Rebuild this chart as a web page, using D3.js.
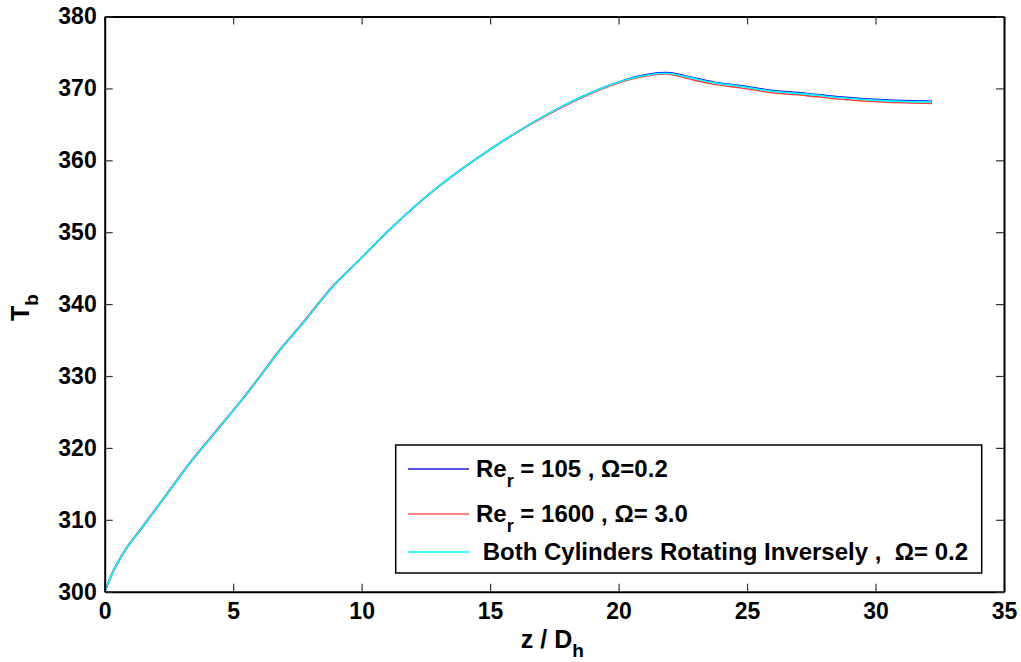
<!DOCTYPE html>
<html>
<head>
<meta charset="utf-8">
<script src="https://cdn.jsdelivr.net/npm/d3@7/dist/d3.min.js"></script>
<style>
  html, body { margin: 0; padding: 0; background: #fff; }
  svg { display: block; }
  text { font-family: "Liberation Sans", Arial, sans-serif; font-weight: bold; fill: #000; }
</style>
</head>
<body>
<svg id="chart" width="1021" height="662"></svg>
<script>
// Axial position z / D_h shared by all three runs
const zPos = [0, 0.33, 0.72, 1.5, 2.41, 3.32, 4.36, 5.26, 5.98, 6.69, 7.73, 8.77, 9.93, 11.1, 12.14,
              13.05, 14.34, 15.64, 17.33, 18.62, 19.92, 21.22, 21.87, 22.65, 23.68, 24.72, 26.0,
              27.3, 28.7, 30.3, 32.2];

// Bulk temperature T_b for each case
const tbRe105 = [300, 302.8, 305.3, 309.1, 313.5, 317.9, 322.4, 326.3, 329.6, 333.0, 337.4, 342.0, 346.2,
                 350.4, 353.8, 356.5, 359.9, 363.0, 366.6, 368.9, 370.8, 372.0, 372.2, 371.7, 370.9,
                 370.4, 369.7, 369.3, 368.8, 368.4, 368.2];
const tbRe1600 = [300, 302.9, 305.4, 309.2, 313.6, 318.0, 322.5, 326.4, 329.7, 333.1, 337.5, 342.1, 346.2,
                  350.4, 353.8, 356.5, 359.9, 363.0, 366.5, 368.8, 370.7, 371.8, 372.0, 371.4, 370.6,
                  370.1, 369.4, 369.0, 368.5, 368.1, 367.9];
const tbInverse = [300, 302.8, 305.3, 309.1, 313.5, 317.9, 322.4, 326.3, 329.6, 333.0, 337.4, 342.0, 346.2,
                   350.4, 353.8, 356.5, 359.9, 363.0, 366.6, 368.9, 370.8, 371.9, 372.1, 371.6, 370.8,
                   370.3, 369.6, 369.2, 368.7, 368.3, 368.1];

const xTicks = [0, 5, 10, 15, 20, 25, 30, 35];
const yTicks = [300, 310, 320, 330, 340, 350, 360, 370, 380];

const series = [
  { name: "re105",  values: tbRe105,  color: "#0000ff" },
  { name: "re1600", values: tbRe1600, color: "#ff3b3b" },
  { name: "inverse", values: tbInverse, color: "#00ffff" }
];

const svg = d3.select("#chart");
const plotL = 104.7, plotR = 1004, plotT = 16.5, plotB = 591.7;

const x = d3.scaleLinear().domain([0, 35]).range([plotL, plotR]);
const y = d3.scaleLinear().domain([300, 380]).range([plotB, plotT]);

// White plot area
svg.append("rect").attr("x", plotL).attr("y", plotT)
  .attr("width", plotR - plotL).attr("height", plotB - plotT)
  .attr("fill", "#fff");

// Curves
const line = d3.line().x((d, i) => x(zPos[i])).y(d => y(d)).curve(d3.curveMonotoneX);
series.forEach(s => {
  svg.append("path").datum(s.values)
    .attr("fill", "none")
    .attr("stroke", s.color)
    .attr("stroke-width", 1.6)
    .attr("d", line);
});

// Axes with inward ticks on all four sides
const styleAxis = g => {
  g.select(".domain").attr("stroke", "#000").attr("stroke-width", 2);
  g.selectAll(".tick line").attr("stroke", "#333").attr("stroke-width", 1.2);
  g.selectAll(".tick text").style("font-size", "23px");
};

svg.append("g").attr("transform", `translate(0,${plotB})`)
  .call(d3.axisBottom(x).tickValues(xTicks).tickFormat(d3.format("d"))
    .tickSizeInner(-8).tickSizeOuter(0).tickPadding(11))
  .call(styleAxis);

svg.append("g").attr("transform", `translate(0,${plotT})`)
  .call(d3.axisTop(x).tickValues(xTicks).tickFormat("")
    .tickSizeInner(-8).tickSizeOuter(0))
  .call(styleAxis);

svg.append("g").attr("transform", `translate(${plotL},0)`)
  .call(d3.axisLeft(y).tickValues(yTicks).tickFormat(d3.format("d"))
    .tickSizeInner(-8).tickSizeOuter(0).tickPadding(8))
  .call(styleAxis);

svg.append("g").attr("transform", `translate(${plotR},0)`)
  .call(d3.axisRight(y).tickValues(yTicks).tickFormat("")
    .tickSizeInner(-8).tickSizeOuter(0))
  .call(styleAxis);

svg.selectAll("g text").attr("fill", "#000").style("font-family", "'Liberation Sans', Arial, sans-serif").style("font-weight", "bold");

// Axis titles
const xTitle = svg.append("text")
  .attr("x", (plotL + plotR) / 2 - 2).attr("y", 648)
  .attr("text-anchor", "middle").style("font-size", "25px");
xTitle.append("tspan").text("z / D");
xTitle.append("tspan").attr("dy", 9).style("font-size", "19px").text("h");

const yTitle = svg.append("text")
  .attr("transform", "translate(29,321) rotate(-90)")
  .attr("text-anchor", "start").style("font-size", "25px");
yTitle.append("tspan").text("T");
yTitle.append("tspan").attr("dy", 9).style("font-size", "19px").text("b");

// Legend
const legend = svg.append("g");
legend.append("rect").attr("x", 395.7).attr("y", 445)
  .attr("width", 586).attr("height", 128)
  .attr("fill", "#fff").attr("stroke", "#000").attr("stroke-width", 1.5);

const legendRows = [
  { color: "#1a1ae0", y: 469, parts: [["Re", 0], ["r", 1], [" = 105 , \u03A9=0.2", 0]] },
  { color: "#ff5a5a", y: 514, parts: [["Re", 0], ["r", 1], [" = 1600 , \u03A9= 3.0", 0]] },
  { color: "#00ffff", y: 552, parts: [[" Both Cylinders Rotating Inversely ,  \u03A9= 0.2", 0]] }
];
legendRows.forEach(r => {
  legend.append("line").attr("x1", 408).attr("x2", 469)
    .attr("y1", r.y).attr("y2", r.y)
    .attr("stroke", r.color).attr("stroke-width", 1.3);
  const t = legend.append("text").attr("x", 476).attr("y", r.y + 8)
    .style("font-size", "24px").attr("xml:space", "preserve").style("white-space", "pre");
  let sub = 0;
  r.parts.forEach(([txt, isSub]) => {
    const ts = t.append("tspan").text(txt);
    if (isSub && !sub) { ts.attr("dy", 10).style("font-size", "18px"); sub = 1; }
    else if (!isSub && sub) { ts.attr("dy", -10); sub = 0; }
  });
});
</script>
</body>
</html>
